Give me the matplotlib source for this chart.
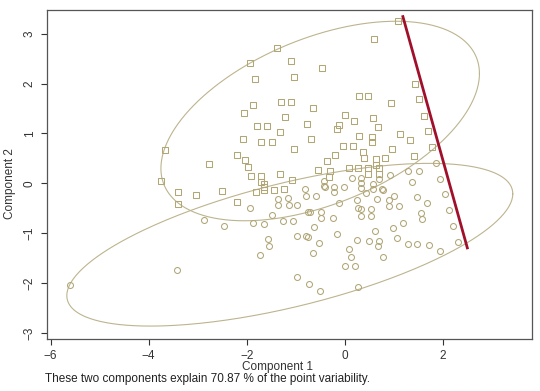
import numpy as np
import matplotlib
matplotlib.use("Agg")
import matplotlib.pyplot as plt

plt.rcParams['font.family'] = ['Liberation Sans', 'DejaVu Sans']

# Cluster 1 (squares): Component 1, Component 2
sq_x = [1.09, 0.60, -1.38, -1.93, -1.10, -0.46, -1.84, -1.03, 1.44, -1.30, -1.10, 0.30, 0.48, 0.95,
        1.52, -1.87, -2.05, -0.65, -1.22, 0.01, 0.58, 1.61, 0.20, -1.79, -1.59, -0.77, -0.11, -0.15,
        0.67, -1.33, 1.71, 1.13, -2.08, -1.70, -1.49, -0.68, 0.30, 0.55, 1.33, 0.56, -1.04, -0.03,
        0.17, 0.96, 1.78, -3.67, 0.37, -2.20, -0.20, 1.42, -2.04, -0.37, 0.40, 0.64, 0.83, -2.77,
        -1.98, 0.64, -0.55, -0.29, 0.08, 0.27, 0.47, 0.71, -1.32, -1.91, -1.70, -0.31, 0.48, 0.70,
        -1.07, -1.70, -3.75, -1.65, -1.64, -3.41, -2.50, -3.04, -1.81, -1.64, -1.44, -1.23, -3.40, -2.19]
sq_y = [3.26, 2.89, 2.72, 2.41, 2.46, 2.32, 2.10, 2.14, 2.00, 1.64, 1.64, 1.76, 1.76, 1.62,
        1.69, 1.58, 1.41, 1.51, 1.33, 1.38, 1.31, 1.35, 1.25, 1.15, 1.15, 1.20, 1.18, 1.08,
        1.12, 1.02, 1.04, 0.99, 0.89, 0.83, 0.83, 0.88, 0.94, 0.93, 0.87, 0.82, 0.69, 0.75,
        0.75, 0.69, 0.73, 0.66, 0.63, 0.57, 0.57, 0.54, 0.47, 0.44, 0.50, 0.48, 0.50, 0.39,
        0.33, 0.37, 0.26, 0.25, 0.30, 0.30, 0.30, 0.30, 0.19, 0.14, 0.14, 0.12, 0.19, 0.19,
        0.07, 0.03, 0.04, -0.02, -0.08, -0.17, -0.16, -0.23, -0.17, -0.14, -0.13, -0.12, -0.41, -0.37]

# Cluster 2 (circles)
ci_x = [1.87, 1.95, 1.30, 1.51, 1.38, 0.92, 0.14, 0.34, 0.34, 0.57, 0.71, -0.43, -0.43, -0.41,
        -0.21, -0.01, 0.34, 0.57, 0.77, 0.79, -0.80, -0.21, 0.44, 2.05, -0.79, -0.58, 1.47, 1.01,
        0.25, 0.65, 0.90, -1.36, -1.16, 1.68, -0.12, -1.36, -1.14, -0.97, 0.90, 1.10, -1.93, 0.28,
        0.34, 0.53, 2.13, 1.55, -0.49, -0.74, -0.70, -1.48, 0.33, 0.53, -0.49, -0.24, 1.57, -2.87,
        -1.26, -1.06, -1.88, -1.64, 1.18, -2.46, 2.22, -0.62, 0.99, 0.62, -0.15, -0.97, -0.79,
        -0.74, 1.07, -1.56, 0.26, 0.50, 0.71, 2.31, -0.52, 1.29, 1.48, 1.72, -1.55, 0.67, 0.08,
        1.95, -0.65, -1.72, 0.13, 0.78, 0.01, 0.22, -3.43, -0.97, -0.72, 0.27, -0.50, -5.60]
ci_y = [0.41, 0.09, 0.24, 0.24, 0.03, 0.17, 0.11, 0.11, 0.01, -0.01, 0.09, 0.04, -0.06, -0.07,
        -0.07, -0.07, -0.10, -0.12, -0.12, -0.14, -0.12, -0.18, -0.19, -0.21, -0.26, -0.25, -0.28, -0.26,
        -0.33, -0.32, -0.33, -0.32, -0.30, -0.39, -0.39, -0.44, -0.44, -0.44, -0.46, -0.46, -0.49, -0.50,
        -0.51, -0.51, -0.53, -0.59, -0.57, -0.57, -0.58, -0.64, -0.65, -0.65, -0.69, -0.70, -0.72, -0.73,
        -0.75, -0.75, -0.80, -0.81, -0.79, -0.86, -0.86, -0.88, -0.90, -0.96, -1.02, -1.06, -1.06,
        -1.08, -1.09, -1.12, -1.13, -1.16, -1.16, -1.18, -1.20, -1.22, -1.22, -1.23, -1.26, -1.26, -1.31,
        -1.35, -1.39, -1.44, -1.47, -1.47, -1.65, -1.65, -1.73, -1.88, -2.01, -2.07, -2.15, -2.03]

# Spanning ellipses: centre and shape matrix
ell1_center = (-0.50, 1.25)
ell1_shape = [[10.56, 3.09], [3.09, 4.00]]
ell2_center = (-1.12, -1.23)
ell2_shape = [[20.7, 4.64], [4.64, 2.66]]

# Red line end points
line_x = [1.18, 2.51]
line_y = [3.37, -1.32]

fig = plt.figure(figsize=(5.40, 3.91), dpi=100)
ax = fig.add_axes([0.0865, 0.133, 0.8985, 0.842])

pt_col = "#b0a676"
ell_col = "#bdb48e"

t = np.linspace(0, 2 * np.pi, 400)
for c, S in [(ell1_center, ell1_shape), (ell2_center, ell2_shape)]:
    L = np.linalg.cholesky(np.array(S))
    pts = L @ np.vstack([np.cos(t), np.sin(t)])
    ax.plot(c[0] + pts[0], c[1] + pts[1], color=ell_col, lw=0.8)

ax.plot(sq_x, sq_y, ls='none', marker='s', ms=4.3, mfc='none', mec=pt_col, mew=0.75)
ax.plot(ci_x, ci_y, ls='none', marker='o', ms=4.3, mfc='none', mec=pt_col, mew=0.75)
ax.plot(line_x, line_y, color='#a0102a', lw=2.0, solid_capstyle='butt')

ax.set_xlim(-6.08, 3.82)
ax.set_ylim(-3.12, 3.48)
ax.set_xticks([-6, -4, -2, 0, 2])
ax.set_yticks([-3, -2, -1, 0, 1, 2, 3])
ax.tick_params(direction='out', length=4, width=0.8, labelsize=8.5, colors='#333333', pad=4)
for lab in ax.get_yticklabels():
    lab.set_rotation(90)
    lab.set_va('center')
for s in ax.spines.values():
    s.set_color('#555555')
    s.set_linewidth(0.9)

fig.text(278 / 540, 1 - 367 / 391, "Component 1", ha='center', va='center', fontsize=8.5, color='#333333')
fig.text(10 / 540, 1 - 184 / 391, "Component 2", ha='center', va='center', rotation=90,
         fontsize=8.5, color='#333333')
fig.text(45 / 540, 1 - 379 / 391, "These two components explain 70.87 % of the point variability.",
         ha='left', va='center', fontsize=8.5, color='#222222')

fig.savefig("out.png", dpi=100)
